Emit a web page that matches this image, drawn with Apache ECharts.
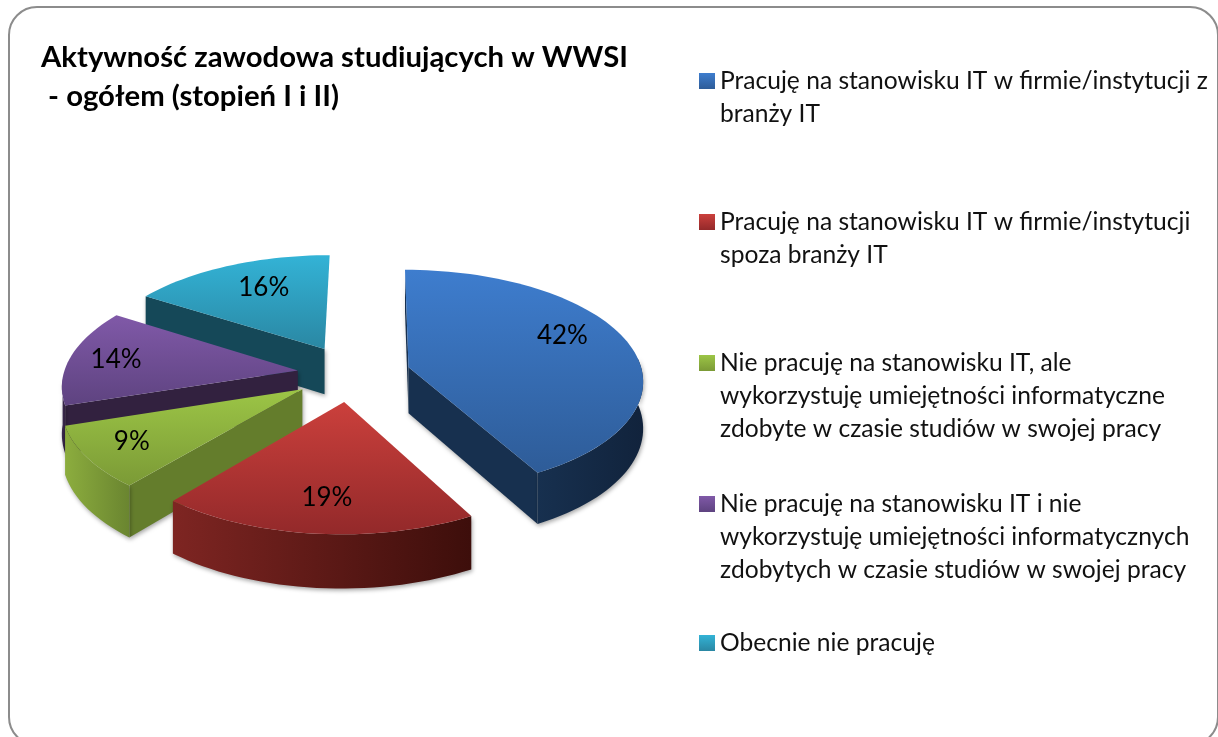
<!DOCTYPE html>
<html><head><meta charset="utf-8">
<style>html,body{margin:0;padding:0;background:#fff;overflow:hidden}#c{width:1218px;height:737px}</style>
<script src="https://cdn.jsdelivr.net/npm/echarts@6/dist/echarts.min.js"></script>
</head><body><div id="c"></div>
<script>
// ---- data ----
const categories = [
  'Pracuję na stanowisku IT w firmie/instytucji z\nbranży IT',
  'Pracuję na stanowisku IT w firmie/instytucji\nspoza branży IT',
  'Nie pracuję na stanowisku IT, ale\nwykorzystuję umiejętności informatyczne\nzdobyte w czasie studiów w swojej pracy',
  'Nie pracuję na stanowisku IT i nie\nwykorzystuję umiejętności informatycznych\nzdobytych w czasie studiów w swojej pracy',
  'Obecnie nie pracuję'
];
const shares = [42, 19, 9, 14, 16];
const titleText = 'Aktywność zawodowa studiujących w WWSI\n - ogółem (stopień I i II)';

// ---- styling ----
const FONT = 'Lato, Carlito, Calibri, sans-serif';
const topColors  = [['#3e7dce','#2e5c98'],['#cb403c','#93292a'],['#9cc546','#7b9a36'],['#8059a8','#5e4380'],['#33b3d6','#2a87a3']];
const wallColors = ['#17304f','#5a1614','#647d2c','#32213f','#154858'];
const rimColors  = [['#17304f','#11233c'],['#7e2522','#3d0e0b'],['#8cad3e','#6a8530'],['#3a2a50','#32213f'],['#154858','#154858']];
const explodeX = [0.295, 0.022, -0.155, -0.18, -0.07];
const explodeZ = [-0.02, -0.33, -0.22, -0.05, 0.15];
const labelNudge = [[0,-13],[2,7],[-23,5],[-22,-1],[8,-2]];
const paintOrder = [4, 3, 2, 0, 1];
const legendLineTops = [81, 222, 363, 504, 643];
const CX = 340, CY = 365, RX = 232, RY = 108, K = 0.114, SKEW = 3.5, DEPTH = 46, LINE = 33;

const total = shares.reduce((a, b) => a + b, 0);
function project(X, Z) { const s = 1 / (1 + K * Z); return [CX + RX * X * s + SKEW * Z, CY - RY * Z * s, s]; }
function rimPoint(i, deg, r) {
  const a = deg * Math.PI / 180;
  return project(explodeX[i] + r * Math.sin(a), explodeZ[i] + r * Math.cos(a));
}
function drop(p) { return [p[0], p[1] + DEPTH * p[2]]; }
const grad = (x2, y2, c) => new echarts.graphic.LinearGradient(0, 0, x2, y2, [{offset:0,color:c[0]},{offset:1,color:c[1]}]);

function makeRender(i) {
  return function (params, api) {
    const value = api.value(0);
    let before = 0;
    for (let k = 0; k < i; k++) before += shares[k];
    const a0 = before / total * 360, a1 = (before + value) / total * 360;
    const arc = [];
    for (let d = a0; d < a1; d += 2) arc.push(rimPoint(i, d, 1));
    arc.push(rimPoint(i, a1, 1));
    const apex = rimPoint(i, 0, 0);
    const children = [];
    const shadow = {shadowBlur: 4, shadowColor: 'rgba(0,0,0,0.35)', shadowOffsetX: 1, shadowOffsetY: 2};
    const wall = p => children.push({type:'polygon', shape:{points:[apex.slice(0,2), p.slice(0,2), drop(p), drop(apex)]},
        style:Object.assign({fill:wallColors[i]}, shadow)});
    // radial walls that face the viewer
    if (Math.sin(a0 * Math.PI / 180) <= 0.001) wall(arc[0]);
    if (Math.sin(a1 * Math.PI / 180) > 0.001) wall(arc[arc.length - 1]);
    // outer wall (front half only)
    const front = [];
    const lo = 85, hi = 266;
    for (let d = Math.max(a0, lo); d < Math.min(a1, hi); d += 2) front.push(rimPoint(i, d, 1));
    if (a0 < hi && a1 > lo) front.push(rimPoint(i, Math.min(a1, hi), 1));
    if (front.length > 1) {
      children.push({type:'polygon', shape:{points:front.map(p=>p.slice(0,2)).concat(front.map(drop).reverse())},
        style:Object.assign({fill:grad(1,0,rimColors[i])}, shadow)});
    }
    // top face
    children.push({type:'polygon', shape:{points:[apex.slice(0,2)].concat(arc.map(p=>p.slice(0,2)))},
      style:{fill:grad(0,1,topColors[i])}});
    // value label
    const lp = rimPoint(i, (a0 + a1) / 2, 0.7);
    children.push({type:'text', z2:10, style:{text:value + '%', x:lp[0]+labelNudge[i][0], y:lp[1]+labelNudge[i][1],
      fill:'#000', font:'26px ' + FONT, align:'center', verticalAlign:'middle'}});
    return {type:'group', children};
  };
}

const series = categories.map((name, i) => ({
  type:'custom', name, coordinateSystem:'none', silent:true, animation:false,
  z: 2 + paintOrder.indexOf(i), clip:false,
  itemStyle:{color:grad(0,1,topColors[i])},
  data:[[shares[i]]], renderItem:makeRender(i)
}));

const legend = categories.map((name, i) => {
  const n = name.split('\n').length, blank = n - 1;
  return {
    data:[name], selectedMode:false, orient:'vertical', left:699, top:legendLineTops[i] - LINE/2 - blank * LINE,
    padding:0, itemWidth:16, itemHeight:16, itemGap:0, icon:'rect',
    // leading empty lines put the icon level with the first line of text
    formatter: t => '\n'.repeat(blank) + t,
    textStyle:{color:'#111', fontFamily:FONT, fontSize:24.6, lineHeight:LINE}
  };
});

const chart = echarts.init(document.getElementById('c'), null, {renderer:'canvas'});
chart.setOption({
  backgroundColor:'#fff', animation:false,
  title:{text:titleText, left:41, top:38, padding:0,
    textStyle:{fontFamily:FONT, fontSize:29.3, fontWeight:'bold', color:'#000', lineHeight:39}},
  legend, series,
  graphic:[{type:'rect', silent:true, z:-1, shape:{x:9,y:7,width:1209,height:738,r:28},
    style:{fill:'none', stroke:'#8c8c8c', lineWidth:2}}]
});
</script></body></html>
